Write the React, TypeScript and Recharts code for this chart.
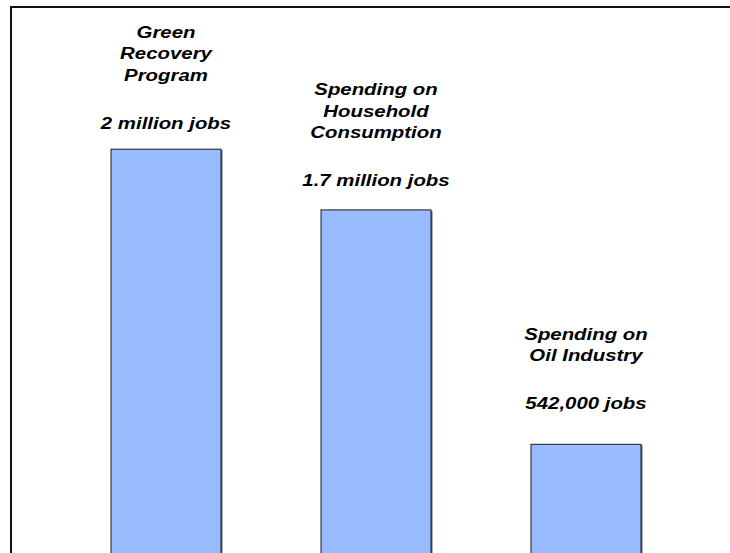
import React from "react";
import { BarChart, Bar, XAxis, YAxis, LabelList } from "recharts";

// Category captions (one entry per line) and values
const categoryLines = [
  ["Green", "Recovery", "Program"],
  ["Spending on", "Household", "Consumption"],
  ["Spending on", "Oil Industry"],
];
const categories = ["Green Recovery Program", "Spending on Household Consumption", "Spending on Oil Industry"];
const jobs = [2000000, 1700000, 542000];
const jobLabels = ["2 million jobs", "1.7 million jobs", "542,000 jobs"];

const chartData = categories.map((name, i) => ({ name, jobs: jobs[i] }));

const FONT = "'Liberation Sans', Arial, Helvetica, sans-serif";

function BarShape(props: any) {
  const { x, y, width, height } = props;
  if (!height || height <= 0) return null;
  return (
    <g>
      {/* slight shadow on the right edge */}
      <rect x={x + 1.5} y={y + 1} width={width} height={height} fill="#5a6478" />
      <rect x={x} y={y} width={width} height={height} fill="#99bbff" stroke="#1a1a1a" strokeWidth={1} />
    </g>
  );
}

function JobLabel(props: any) {
  const { x, y, width, value } = props;
  const i = jobs.indexOf(Number(value));
  if (i < 0) return null;
  const cx = x + width / 2;
  // captions sit a little further above the shorter bars
  const valueBase = 0.95 * y - 13;
  const lines = categoryLines[i];
  return (
    <g
      transform={`translate(${cx},0) scale(1.2,1)`}
      fontFamily={FONT}
      fontWeight="bold"
      fontStyle="italic"
      fontSize={17}
      fill="#000"
    >
      {lines.map((line, k) => (
        <text key={k} x={0} y={valueBase - 48 - 21.5 * (lines.length - 1 - k)} textAnchor="middle">
          {line}
        </text>
      ))}
      <text x={0} y={valueBase} textAnchor="middle">
        {jobLabels[i]}
      </text>
    </g>
  );
}

export default function App() {
  return (
    <div
      style={{
        position: "absolute",
        left: 0,
        top: 0,
        width: 730,
        height: 553,
        background: "#fff",
        overflow: "hidden",
      }}
    >
      <div
        style={{
          position: "absolute",
          left: 10,
          top: 6,
          width: 800,
          height: 600,
          borderLeft: "2px solid #111",
          borderTop: "2px solid #111",
        }}
      />
      <div style={{ position: "absolute", left: 0, top: 0 }}>
        <BarChart
          width={730}
          height={556}
          data={chartData}
          margin={{ top: 48, right: 39, bottom: 2, left: 61 }}
        >
          <XAxis dataKey="name" hide />
          <YAxis hide domain={[0, 2500000]} />
          <Bar dataKey="jobs" barSize={110} shape={BarShape} isAnimationActive={false}>
            <LabelList dataKey="jobs" content={JobLabel} />
          </Bar>
        </BarChart>
      </div>
    </div>
  );
}
